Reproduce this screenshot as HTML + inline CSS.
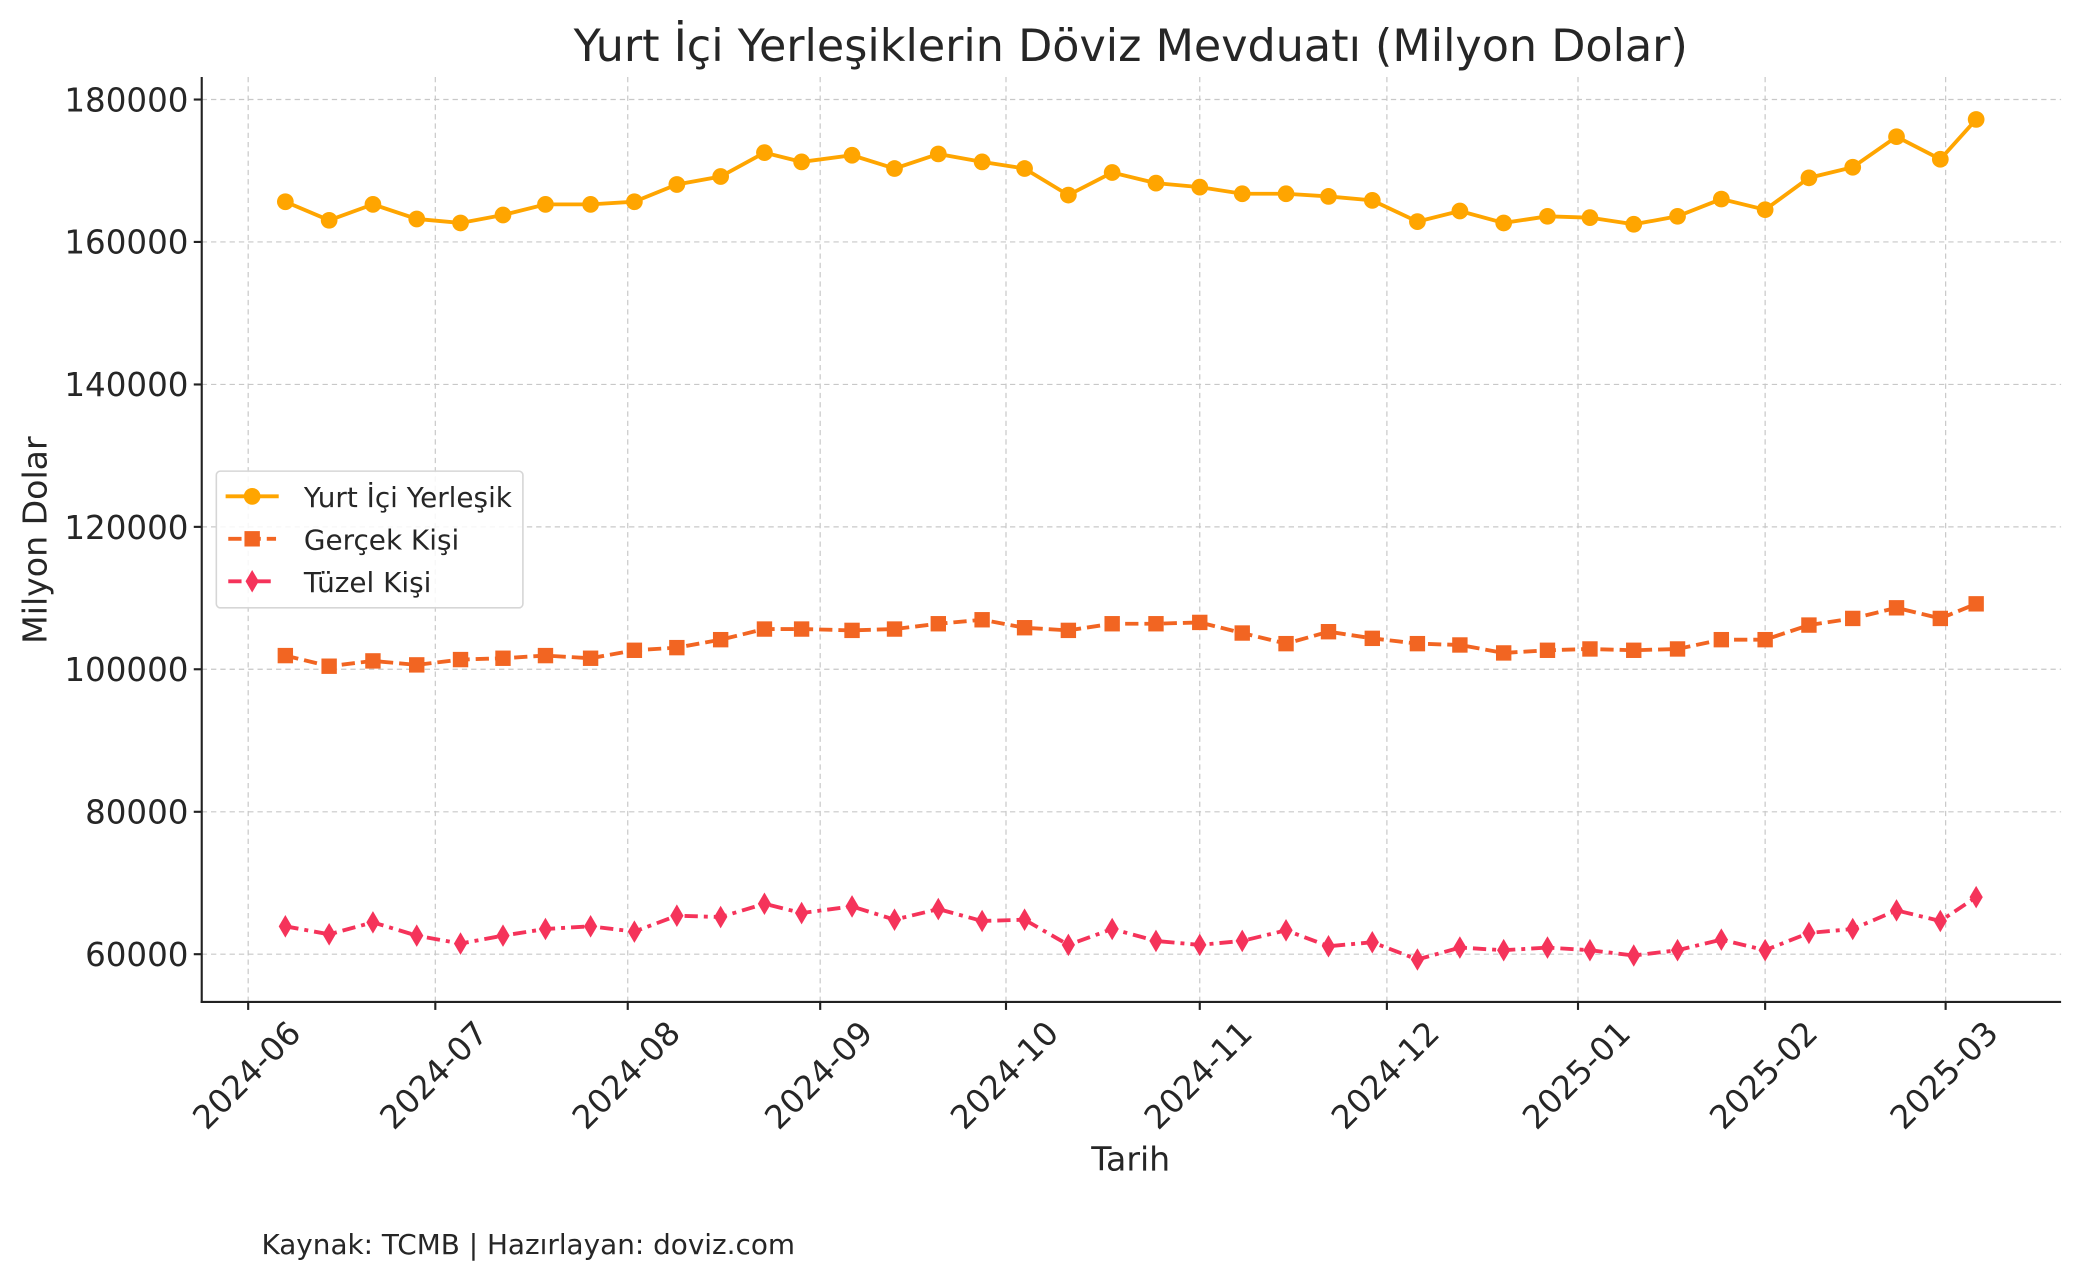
<!DOCTYPE html>
<html><head><meta charset="utf-8"><style>html,body{margin:0;padding:0;background:#fff}svg{display:block}text{font-family:"DejaVu Sans","Liberation Sans",sans-serif;fill:#262626}</style></head><body>
<svg width="2081" height="1280" viewBox="0 0 1568 964.5" preserveAspectRatio="none" xmlns="http://www.w3.org/2000/svg">
<rect width="1568" height="964.5" fill="#fff"/>
<g stroke="#c8c8c8" stroke-width="0.9" stroke-dasharray="4,3">
<line x1="152" x2="1553" y1="75" y2="75"/><line x1="152" x2="1553" y1="182.3" y2="182.3"/><line x1="152" x2="1553" y1="289.7" y2="289.7"/><line x1="152" x2="1553" y1="397" y2="397"/><line x1="152" x2="1553" y1="504.3" y2="504.3"/><line x1="152" x2="1553" y1="611.7" y2="611.7"/><line x1="152" x2="1553" y1="719" y2="719"/>
<line y1="58" y2="755" x1="187" x2="187"/><line y1="58" y2="755" x1="328" x2="328"/><line y1="58" y2="755" x1="473" x2="473"/><line y1="58" y2="755" x1="618" x2="618"/><line y1="58" y2="755" x1="758" x2="758"/><line y1="58" y2="755" x1="904" x2="904"/><line y1="58" y2="755" x1="1045" x2="1045"/><line y1="58" y2="755" x1="1189" x2="1189"/><line y1="58" y2="755" x1="1330" x2="1330"/><line y1="58" y2="755" x1="1466" x2="1466"/>
</g>
<g stroke="#222" stroke-width="1.6">
<line x1="152" y1="58" x2="152" y2="755.8"/><line x1="151.2" y1="755" x2="1553" y2="755"/>
<line x1="146" x2="152" y1="75" y2="75"/><line x1="146" x2="152" y1="182.3" y2="182.3"/><line x1="146" x2="152" y1="289.7" y2="289.7"/><line x1="146" x2="152" y1="397" y2="397"/><line x1="146" x2="152" y1="504.3" y2="504.3"/><line x1="146" x2="152" y1="611.7" y2="611.7"/><line x1="146" x2="152" y1="719" y2="719"/>
<line y1="755" y2="761" x1="187" x2="187"/><line y1="755" y2="761" x1="328" x2="328"/><line y1="755" y2="761" x1="473" x2="473"/><line y1="755" y2="761" x1="618" x2="618"/><line y1="755" y2="761" x1="758" x2="758"/><line y1="755" y2="761" x1="904" x2="904"/><line y1="755" y2="761" x1="1045" x2="1045"/><line y1="755" y2="761" x1="1189" x2="1189"/><line y1="755" y2="761" x1="1330" x2="1330"/><line y1="755" y2="761" x1="1466" x2="1466"/>
</g>
<g font-size="24.5" text-anchor="end">
<text x="142" y="84">180000</text><text x="142" y="191">160000</text><text x="142" y="298.5">140000</text><text x="142" y="406">120000</text><text x="142" y="513">100000</text><text x="142" y="620.5">80000</text><text x="142" y="728">60000</text>
</g>
<g font-size="24.5" text-anchor="end">
<text transform="translate(228,780) rotate(-45)">2024-06</text>
<text transform="translate(369,780) rotate(-45)">2024-07</text>
<text transform="translate(514,780) rotate(-45)">2024-08</text>
<text transform="translate(659,780) rotate(-45)">2024-09</text>
<text transform="translate(799,780) rotate(-45)">2024-10</text>
<text transform="translate(945,780) rotate(-45)">2024-11</text>
<text transform="translate(1086,780) rotate(-45)">2024-12</text>
<text transform="translate(1230,780) rotate(-45)">2025-01</text>
<text transform="translate(1371,780) rotate(-45)">2025-02</text>
<text transform="translate(1507,780) rotate(-45)">2025-03</text>
</g>
<text x="852" y="46" font-size="33.5" text-anchor="middle" fill="#333">Yurt İçi Yerleşiklerin Döviz Mevduatı (Milyon Dolar)</text>
<text x="852" y="882" font-size="25" text-anchor="middle">Tarih</text>
<text transform="translate(35,407) rotate(-90)" font-size="25" text-anchor="middle">Milyon Dolar</text>
<text x="197" y="945" font-size="21" fill="#333">Kaynak: TCMB | Hazırlayan: doviz.com</text>
<defs>
<circle id="c" r="6.3" fill="#FFA500"/>
<rect id="s" x="-5.8" y="-5.8" width="11.6" height="11.6" fill="#F26522"/>
<polygon id="d" points="0,-8.5 5,0 0,8.5 -5,0" fill="#F5335A"/>
</defs>
<script>
const xs=[215,248,281,314,347,379,411,445,478,510,543,576,604,642,674,707,740,772,805,838,871,904,936,969,1001,1034,1068,1100,1133,1166,1198,1231,1264,1297,1330,1363,1396,1429,1462,1489];
const a=[152,166,154,165,168,162,154,154,152,139,133,115,122,117,127,116,122,127,147,130,138,141,146,146,148,151,167,159,168,163,164,169,163,150,158,134,126,103,120,90];
const b=[494,502,498,501,497,496,494,496,490,488,482,474,474,475,474,470,467,473,475,470,470,469,477,485,476,481,485,486,492,490,489,490,489,482,482,471,466,458,466,455];
const c=[698,704,695,705,711,705,700,698,702,690,691,681,688,683,693,685,694,693,712,700,709,712,709,701,713,710,723,714,716,714,716,720,716,708,716,703,700,686,694,676];
const svg=document.currentScript.parentNode;const NS="http://www.w3.org/2000/svg";
function ser(ys,col,dash,m){const p=document.createElementNS(NS,"polyline");p.setAttribute("points",xs.map((x,i)=>x+","+ys[i]).join(" "));p.setAttribute("fill","none");p.setAttribute("stroke",col);p.setAttribute("stroke-width","2.9");if(dash)p.setAttribute("stroke-dasharray",dash);svg.appendChild(p);
xs.forEach((x,i)=>{const u=document.createElementNS(NS,"use");u.setAttribute("href","#"+m);u.setAttribute("x",x);u.setAttribute("y",ys[i]);svg.appendChild(u);});}
ser(a,"#FFA500","","c");ser(b,"#F26522","10,4.5","s");ser(c,"#F5335A","10,4.5,3,4.5","d");
</script>
<rect x="163" y="355" width="231" height="103" rx="3" fill="#fff" fill-opacity="0.85" stroke="#d6d6d6" stroke-width="1.2"/>
<line x1="170" x2="210" y1="374" y2="374" stroke="#FFA500" stroke-width="2.9"/><use href="#c" x="190" y="374"/>
<line x1="172" x2="208" y1="406" y2="406" stroke="#F26522" stroke-width="2.9" stroke-dasharray="10,4.5"/><use href="#s" x="190" y="406"/>
<line x1="172" x2="208" y1="438" y2="438" stroke="#F5335A" stroke-width="2.9" stroke-dasharray="10,4.5,3,4.5"/><use href="#d" x="190" y="438"/>
<g font-size="21"><text x="229" y="382">Yurt İçi Yerleşik</text><text x="229" y="414">Gerçek Kişi</text><text x="229" y="446">Tüzel Kişi</text></g>
</svg>
</body></html>
